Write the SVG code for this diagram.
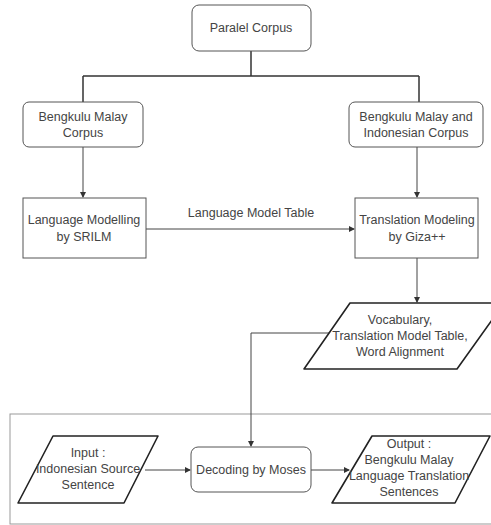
<svg xmlns="http://www.w3.org/2000/svg" width="491" height="525" viewBox="0 0 491 525">
<defs>
<marker id="ah" markerWidth="6" markerHeight="6" refX="5" refY="3" orient="auto" markerUnits="userSpaceOnUse">
<path d="M0,0 L6,3 L0,6 Z" fill="#333"/>
</marker>
<style>
.box{fill:#fff;stroke:#555;stroke-width:1}
.para{fill:#fff;stroke:#222;stroke-width:1.6;stroke-linejoin:round}
.t{font-family:"Liberation Sans",Arial,sans-serif;font-size:12.5px;fill:#444;text-anchor:middle}
.c{fill:none;stroke:#444;stroke-width:1}
.ct{fill:none;stroke:#333;stroke-width:1.5}
</style>
</defs>
<rect width="491" height="525" fill="#fff"/>
<rect x="10" y="414" width="490" height="110" fill="none" stroke="#999" stroke-width="1"/>
<g id="connectors">
<path class="ct" d="M251,51 V76 M83,76 H419 M83,76 V102 M419,76 V102"/>
<path class="c" d="M83,147 V197" marker-end="url(#ah)"/>
<path class="c" d="M417,147 V197" marker-end="url(#ah)"/>
<path class="c" d="M146,229 H354" marker-end="url(#ah)"/>
<text class="t" x="251" y="217">Language Model Table</text>
<path class="c" d="M417,258 V302" marker-end="url(#ah)"/>
<path class="c" d="M330,333 H251 V446" marker-end="url(#ah)"/>
<path class="c" d="M145,470 H190" marker-end="url(#ah)"/>
<path class="c" d="M311,470 H349" marker-end="url(#ah)"/>
</g>
<g id="paralel">
<rect class="box" x="192" y="5" width="119" height="46" rx="7"/>
<text class="t" x="251" y="32">Paralel Corpus</text>
</g>
<g id="bm-corpus">
<rect class="box" x="23" y="102" width="120" height="45" rx="6"/>
<text class="t" x="83" y="121">Bengkulu Malay</text>
<text class="t" x="83" y="137">Corpus</text>
</g>
<g id="bmi-corpus">
<rect class="box" x="349" y="102" width="134" height="45" rx="6"/>
<text class="t" x="416" y="121">Bengkulu Malay and</text>
<text class="t" x="416" y="137">Indonesian Corpus</text>
</g>
<g id="lm">
<rect class="box" x="23" y="198" width="123" height="60"/>
<text class="t" x="84" y="224">Language Modelling</text>
<text class="t" x="84" y="241">by SRILM</text>
</g>
<g id="tm">
<rect class="box" x="355" y="198" width="123" height="60"/>
<text class="t" x="417" y="224">Translation Modeling</text>
<text class="t" x="417" y="241">by Giza++</text>
</g>
<g id="vocab">
<path class="para" d="M350,303 H504 L457,369 H304 Z"/>
<text class="t" x="400" y="324">Vocabulary,</text>
<text class="t" x="400" y="340">Translation Model Table,</text>
<text class="t" x="400" y="356">Word Alignment</text>
</g>
<g id="input">
<path class="para" d="M53,436 H158 L124,503 H18 Z"/>
<text class="t" x="88" y="457">Input :</text>
<text class="t" x="88" y="473">Indonesian Source</text>
<text class="t" x="88" y="489">Sentence</text>
</g>
<g id="decoding">
<rect class="box" x="191" y="447" width="120" height="45" rx="7"/>
<text class="t" x="251" y="474">Decoding by Moses</text>
</g>
<g id="output">
<path class="para" d="M372,436 H490 L455,503 H332 Z"/>
<text class="t" x="409" y="448">Output :</text>
<text class="t" x="409" y="464">Bengkulu Malay</text>
<text class="t" x="409" y="480">Language Translation</text>
<text class="t" x="409" y="496">Sentences</text>
</g>
</svg>
